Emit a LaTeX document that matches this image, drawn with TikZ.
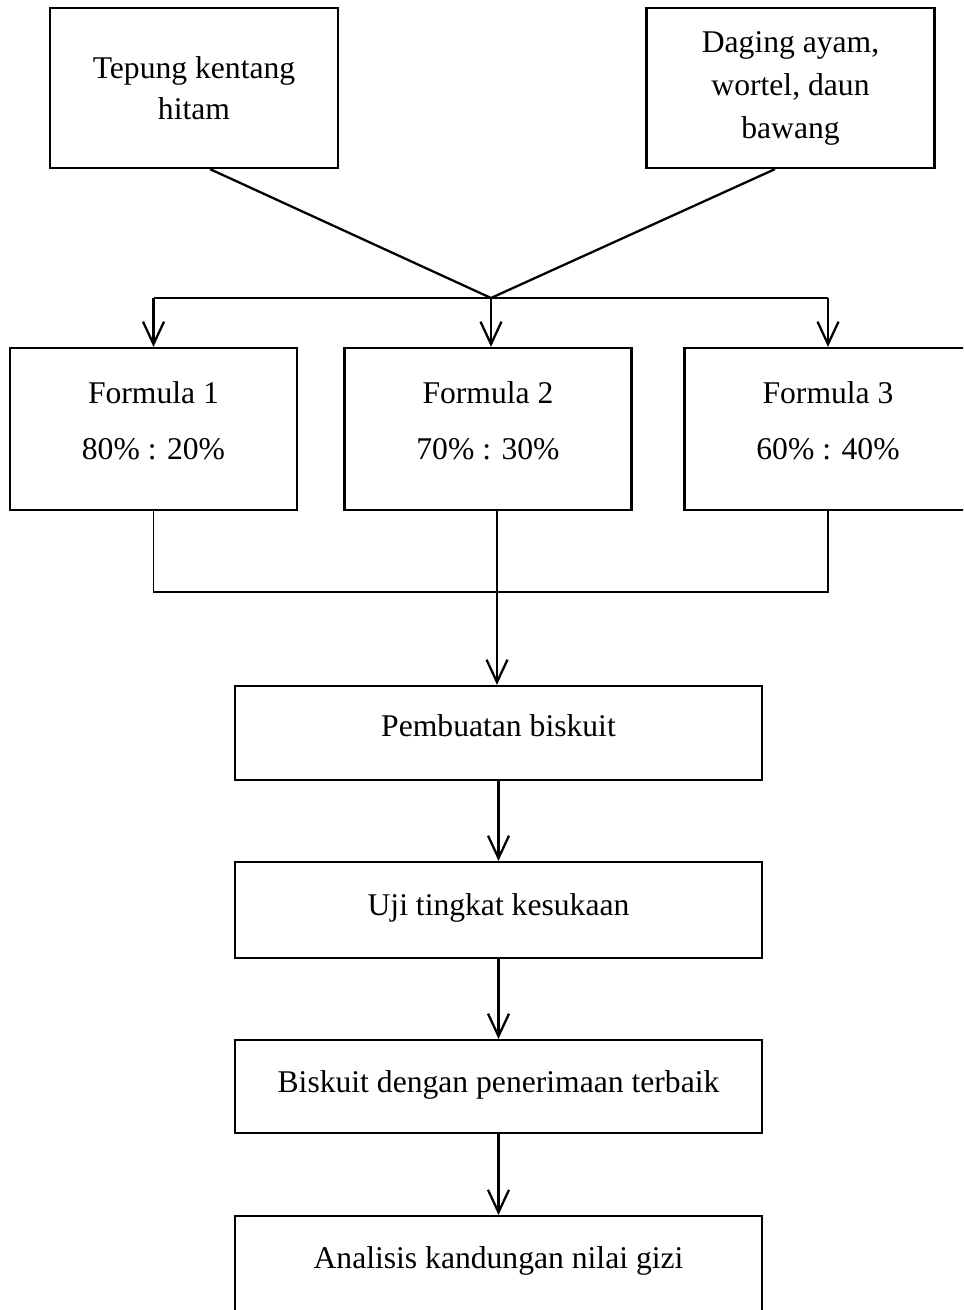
\documentclass[tikz,border=0pt]{standalone}
\usepackage{fontspec}
\setmainfont{Liberation Serif}
\usepackage{xcolor}
\usepackage{tikz}
\usetikzlibrary{arrows.meta, positioning, calc}
\definecolor{mydark}{RGB}{0,0,0}
\tikzset{
  box/.style={rectangle, draw=mydark, line width=1.3pt, align=center,
    font=\fontsize{18pt}{23pt}\selectfont},
  srcbox/.style={box, minimum width=5.76cm, minimum height=3.2cm},
  fbox/.style={box, minimum width=5.74cm, minimum height=3.24cm, text depth=9.5pt},
  stepbox/.style={box, minimum width=10.54cm, minimum height=1.88cm},
  arrow/.style={-{Straight Barb[length=0.45cm, width=0.42cm]}, line width=1.3pt, color=mydark},
  line/.style={line width=1.3pt, color=mydark},
  thinline/.style={line width=0.9pt, color=mydark}
}
\begin{document}
\begin{tikzpicture}[x=0.02cm, y=-0.02cm]
  \clip (0,0) rectangle (963,1310);
  \useasboundingbox (0,0) rectangle (963,1310);

  % bahan
  \node[srcbox] (tepung) at (194,88) {Tepung kentang\\hitam};
  \node[srcbox, font=\fontsize{18pt}{24.5pt}\selectfont] (daging) at (790.5,88) {Daging ayam,\\wortel, daun\\bawang};
  \coordinate (mix) at (491,298);

  % formula
  \node[fbox] (f1) at (153.5,429) {Formula 1\\[9pt]80\% : 20\%};
  \node[fbox] (f2) at (488,429) {Formula 2\\[9pt]70\% : 30\%};
  \node[fbox] (f3) at (828,429) {Formula 3\\[9pt]60\% : 40\%};
  \coordinate (merge) at (497,592);

  % tahapan
  \node[stepbox, text depth=9pt] (buat) at (498.5,733) {Pembuatan biskuit};
  \node[stepbox, minimum height=1.92cm, text depth=6pt] (uji) at (498.5,910) {Uji tingkat kesukaan};
  \node[stepbox, minimum height=1.86cm, text depth=6pt] (terbaik) at (498.5,1086.5) {Biskuit dengan penerimaan terbaik};
  \node[stepbox, anchor=north, minimum height=0pt, inner ysep=0.6cm, text depth=2cm] (gizi) at (498.5,1215) {Analisis kandungan nilai gizi};

  % Edges
  \draw[line] ([xshift=0.32cm]tepung.south) -- (mix);
  \draw[line] ([xshift=-0.31cm]daging.south) -- (mix);
  \draw[line] (f1.north |- mix) -- (f3.north |- mix);
  \draw[arrow] (f1.north |- mix) -- (f1.north);
  \draw[arrow] (mix) -- (mix |- f2.north);
  \draw[arrow] (f3.north |- mix) -- (f3.north);

  \draw[thinline] (f1.south) |- (merge) -| (f3.south);
  \draw[arrow] (merge |- f2.south) -- (merge |- buat.north);

  \draw[arrow] (buat) -- (uji);
  \draw[arrow] (uji) -- (terbaik);
  \draw[arrow] (terbaik) -- (gizi);
\end{tikzpicture}
\end{document}
